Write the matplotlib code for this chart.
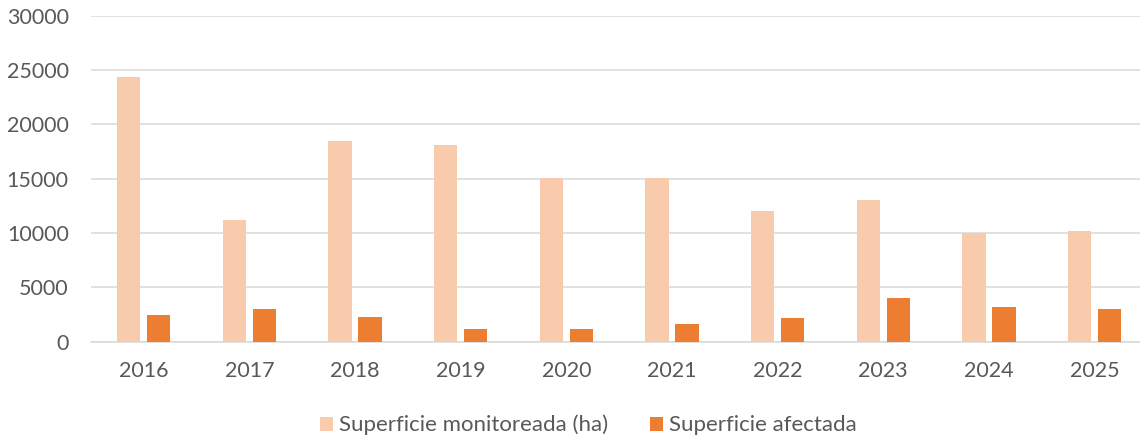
import matplotlib
matplotlib.use("Agg")
import matplotlib.pyplot as plt
import numpy as np

# Données
annees = ["2016", "2017", "2018", "2019", "2020", "2021", "2022", "2023", "2024", "2025"]
superficie_monitoreada = [24400, 11200, 18500, 18100, 15100, 15100, 12000, 13000, 9970, 10180]
superficie_afectada = [2450, 2980, 2240, 1170, 1170, 1600, 2150, 4050, 3220, 2980]

couleur_claire = "#F8CBAD"
couleur_foncee = "#ED7D31"
gris_texte = "#595959"
gris_grille = "#D9D9D9"

plt.rcParams["font.family"] = ["Lato", "DejaVu Sans"]

fig = plt.figure(figsize=(11.4, 4.41), dpi=100)
ax = fig.add_axes([0.0798, 0.2252, 0.9202, 0.7392])

x = np.arange(len(annees))
largeur = 0.221
decalage = 0.142
ax.bar(x - decalage, superficie_monitoreada, largeur, color=couleur_claire,
       label="Superficie monitoreada (ha)", zorder=3)
ax.bar(x + decalage, superficie_afectada, largeur, color=couleur_foncee,
       label="Superficie afectada", zorder=3)

ax.set_ylim(0, 30000)
ax.set_yticks(range(0, 30001, 5000))
ax.set_xlim(-0.5, 9.43)
ax.set_xticks(x)
ax.set_xticklabels(annees)

ax.grid(axis="y", color=gris_grille, linewidth=1.1, zorder=0)
for cote in ["top", "right", "left"]:
    ax.spines[cote].set_visible(False)
ax.spines["bottom"].set_color(gris_grille)
ax.spines["bottom"].set_linewidth(1.1)
ax.tick_params(axis="y", length=0, pad=16, labelsize=15.5, labelcolor=gris_texte)
ax.tick_params(axis="x", length=0, pad=14, labelsize=15.5, labelcolor=gris_texte)

fig.legend(loc="center", bbox_to_anchor=(0.516, 0.036), ncol=2, frameon=False,
           fontsize=16, labelcolor=gris_texte, handlelength=0.6, handleheight=0.6,
           handletextpad=0.25, columnspacing=1.9)

fig.savefig("out.png", dpi=100)
